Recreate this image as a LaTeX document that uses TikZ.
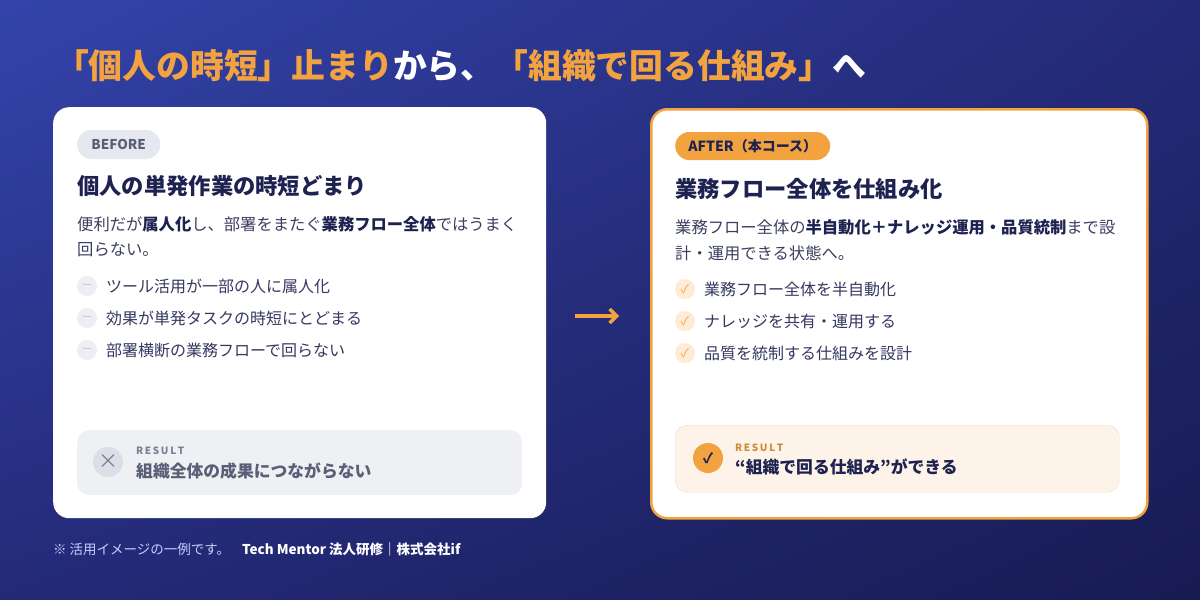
\documentclass[tikz,border=0pt]{standalone}
\usepackage{fontspec}
\setmainfont{Noto Sans CJK JP}
\newfontfamily\jp{Noto Sans CJK JP}
\usetikzlibrary{arrows.meta,shadings}
\definecolor{bgA}{HTML}{3344AA}
\definecolor{bgM}{HTML}{242A78}
\definecolor{bgB}{HTML}{181B52}
\definecolor{org}{HTML}{F2A340}
\definecolor{navy}{HTML}{1E2250}
\definecolor{txt}{HTML}{3C4060}
\definecolor{gry}{HTML}{5A5F78}
\definecolor{pillg}{HTML}{E6E8F0}
\definecolor{resg}{HTML}{EEF0F4}
\definecolor{resc}{HTML}{DCDFE8}
\definecolor{bulg}{HTML}{ECEEF3}
\definecolor{bulo}{HTML}{FDEBD6}
\definecolor{reso}{HTML}{FDF3E8}
\definecolor{reso2}{HTML}{F7DCC0}
\tikzset{
 lbl/.style={anchor=west,inner sep=0pt,font=\jp},
 card/.style={fill=white,rounded corners=16pt},
 bul/.style={circle,minimum size=20pt,inner sep=0pt},
}
\begin{document}
\begin{tikzpicture}[x=1pt,y=-1pt]
\shade[upper left=bgA,upper right=bgM,lower left=bgM,lower right=bgB] (0,0) rectangle (1200,600);
\useasboundingbox (0,0) rectangle (1200,600);
% title
\node[lbl,font=\jp\fontsize{33.8}{33.8}\selectfont\bfseries] (title) at (55,66)
 {\textcolor{org}{「個人の時短」止まり}\textcolor{white}{から、}\textcolor{org}{「組織で回る仕組み」}\textcolor{white}{へ}};
% left card
\node[card,minimum width=493pt,minimum height=411pt,anchor=north west,inner sep=0pt] (lc) at (53,107) {};
\node[fill=pillg,rounded corners=14pt,minimum width=83pt,minimum height=29pt,text=gry,font=\jp\fontsize{13.5}{13.5}\selectfont\bfseries,anchor=west] (bp) at (77,144.5) {BEFORE};
\node[lbl,text=navy,font=\jp\fontsize{22.3}{22.3}\selectfont\bfseries] (lh) at (77,186) {個人の単発作業の時短どまり};
\node[lbl,text=txt,font=\jp\fontsize{16.3}{16.3}\selectfont] (ld1) at (77,224) {便利だが\textbf{\textcolor{navy}{属人化}}し、部署をまたぐ\textbf{\textcolor{navy}{業務フロー全体}}ではうまく};
\node[lbl,text=txt,font=\jp\fontsize{16.3}{16.3}\selectfont] (ld2) at (77,250) {回らない。};
\foreach \y/\t/\n in {286/ツール活用が一部の人に属人化/a,318/効果が単発タスクの時短にとどまる/b,350/部署横断の業務フローで回らない/c}{
 \node[bul,fill=bulg,text=gray!75,font=\jp\fontsize{10}{10}\selectfont] (lb\n) at (87,\y) {―};
 \node[lbl,text=navy!90,font=\jp\fontsize{16}{16}\selectfont] (lt\n) at (106,\y) {\t};
}
\node[fill=resg,rounded corners=12pt,minimum width=445pt,minimum height=65pt,anchor=north west] (lr) at (77,430) {};
\node[bul,fill=resc,minimum size=30pt,text=gry!80,font=\fontsize{20}{20}\selectfont] (lrc) at (108,462) {×};
\node[lbl,text=gry!80,font=\jp\fontsize{10}{10}\selectfont\bfseries] (lrl) at (136,451) {R\,E\,S\,U\,L\,T};
\node[lbl,text=gry,font=\jp\fontsize{16.8}{16.8}\selectfont\bfseries] (lrt) at (136,471) {組織全体の成果につながらない};
% arrow
\coordinate (a1) at (575,316); \coordinate (a2) at (619,316);
\draw[org,line width=3.5pt,-{Straight Barb[length=7pt,width=14pt]}] (a1) -- (a2);
% right card
\node[card,draw=org,line width=2.5pt,minimum width=496pt,minimum height=409pt,anchor=north west,inner sep=0pt] (rc) at (650,108) {};
\node[fill=org,rounded corners=14pt,minimum width=155pt,minimum height=28pt,text=navy,font=\jp\fontsize{14}{14}\selectfont\bfseries,anchor=west] (ap) at (675,146) {AFTER（本コース）};
\node[lbl,text=navy,font=\jp\fontsize{22.3}{22.3}\selectfont\bfseries] (rh) at (675,189) {業務フロー全体を仕組み化};
\node[lbl,text=txt,font=\jp\fontsize{16.3}{16.3}\selectfont] (rd1) at (675,227) {業務フロー全体の\textbf{\textcolor{navy}{半自動化＋ナレッジ運用・品質統制}}まで設};
\node[lbl,text=txt,font=\jp\fontsize{16.3}{16.3}\selectfont] (rd2) at (675,253) {計・運用できる状態へ。};
\foreach \y/\t/\n in {289/業務フロー全体を半自動化/a,321/ナレッジを共有・運用する/b,353/品質を統制する仕組みを設計/c}{
 \node[bul,fill=bulo,text=org,font=\jp\fontsize{12}{12}\selectfont] (rb\n) at (685,\y) {✓};
 \node[lbl,text=navy!90,font=\jp\fontsize{16}{16}\selectfont] (rt\n) at (704,\y) {\t};
}
\node[fill=reso,draw=reso2,rounded corners=12pt,minimum width=444pt,minimum height=67pt,anchor=north west] (rr) at (675,425) {};
\node[bul,fill=org,minimum size=30pt,text=navy,font=\jp\fontsize{14}{14}\selectfont\bfseries] (rrc) at (708,458) {✓};
\node[lbl,text=org!85!black,font=\jp\fontsize{10}{10}\selectfont\bfseries] (rrl) at (735,448) {R\,E\,S\,U\,L\,T};
\node[lbl,text=navy,font=\jp\fontsize{16.8}{16.8}\selectfont\bfseries] (rrt) at (735,467) {“組織で回る仕組み”ができる};
% footer
\node[lbl,text=white!80!blue,font=\jp\fontsize{13.5}{13.5}\selectfont] (ft) at (53,549) {※ 活用イメージの一例です。\hspace{12pt}\textbf{\textcolor{white}{Tech Mentor 法人研修｜株式会社if}}};
\end{tikzpicture}
\end{document}
